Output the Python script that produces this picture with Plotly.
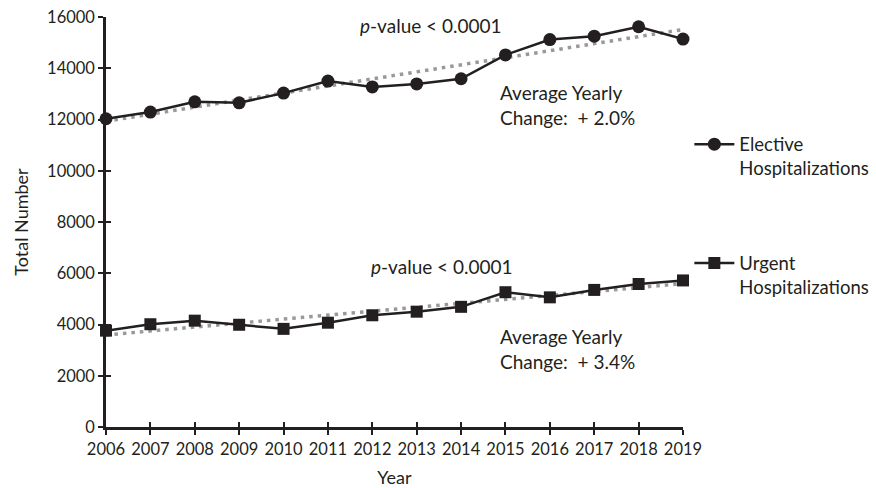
import numpy as np
import plotly.graph_objects as go

years = list(range(2006, 2020))
elective = [12030, 12290, 12690, 12650, 13030, 13500, 13270, 13390, 13590, 14520, 15120, 15250, 15620, 15140]
urgent = [3760, 4010, 4150, 3990, 3830, 4070, 4360, 4500, 4690, 5260, 5060, 5350, 5580, 5720]
y_ticks = list(range(0, 16001, 2000))

INK = "#231f20"
TREND = "#999999"
FONT = "Lato"

def trend(vals):
    c = np.polyfit(years, vals, 1)
    return list(np.polyval(c, years))

fig = go.Figure()
for vals in (elective, urgent):
    fig.add_trace(go.Scatter(x=years, y=trend(vals), mode="lines",
                             line=dict(color=TREND, width=3.5, dash="3.5px,5px"),
                             showlegend=False, hoverinfo="skip", cliponaxis=False))

fig.add_trace(go.Scatter(x=years, y=elective, mode="lines+markers",
                         name="Elective<br>Hospitalizations",
                         line=dict(color=INK, width=2.5),
                         marker=dict(symbol="circle", size=13, color=INK),
                         cliponaxis=False, legend="legend"))
fig.add_trace(go.Scatter(x=years, y=urgent, mode="lines+markers",
                         name="Urgent<br>Hospitalizations",
                         line=dict(color=INK, width=2.5),
                         marker=dict(symbol="square", size=12, color=INK),
                         cliponaxis=False, legend="legend2"))

# invisible trace for inner-tick overlay axes
fig.add_trace(go.Scatter(x=[years[0]], y=[0], xaxis="x2", yaxis="y2", mode="markers",
                         marker=dict(opacity=0), showlegend=False, hoverinfo="skip"))

axis_font = dict(family=FONT, size=16.5, color=INK)
title_font = dict(family=FONT, size=18, color=INK)
fig.update_layout(
    width=876, height=488,
    margin=dict(l=106, r=193, t=17, b=61, autoexpand=False),
    paper_bgcolor="white", plot_bgcolor="white",
    font=dict(family=FONT, color=INK, size=16),
    xaxis=dict(range=[2006, 2019], tickmode="array", tickvals=years,
               ticktext=[str(y) for y in years],
               showline=True, linecolor=INK, linewidth=2.5,
               ticks="outside", ticklen=5, tickwidth=2, tickcolor=INK,
               showgrid=False, zeroline=False, tickfont=axis_font,
               title=dict(text="Year", font=title_font, standoff=15)),
    yaxis=dict(range=[0, 16000], tickmode="array", tickvals=y_ticks,
               ticktext=[str(v) for v in y_ticks],
               showline=True, linecolor=INK, linewidth=2.5,
               ticks="outside", ticklen=5, tickwidth=2, tickcolor=INK,
               showgrid=False, zeroline=False, tickfont=axis_font,
               title=dict(text="Total Number", font=title_font, standoff=14)),
    xaxis2=dict(range=[2006, 2019], overlaying="x", tickmode="array", tickvals=years,
                ticks="inside", ticklen=5, tickwidth=2, tickcolor=INK,
                showticklabels=False, showgrid=False, zeroline=False, showline=False),
    yaxis2=dict(range=[0, 16000], overlaying="y", tickmode="array", tickvals=y_ticks,
                ticks="inside", ticklen=5, tickwidth=2, tickcolor=INK,
                showticklabels=False, showgrid=False, zeroline=False, showline=False),
    legend=dict(x=1.011, y=0.735, xanchor="left", yanchor="top", valign="top",
                itemwidth=40,
                font=dict(family=FONT, size=18.5, color=INK), bgcolor="rgba(0,0,0,0)"),
    legend2=dict(x=1.011, y=0.445, xanchor="left", yanchor="top", valign="top",
                 itemwidth=40,
                 font=dict(family=FONT, size=18.5, color=INK), bgcolor="rgba(0,0,0,0)"),
    showlegend=True,
)

ann_font = dict(family=FONT, size=19, color=INK)
fig.add_annotation(x=2013.33, y=15650, text="<i>p</i>-value &lt; 0.0001", showarrow=False,
                   xanchor="center", yanchor="middle", font=ann_font)
fig.add_annotation(x=2014.83, y=12560, text="Average Yearly<br>Change:  + 2.0%", showarrow=False,
                   xanchor="left", yanchor="middle", align="left", font=ann_font)
fig.add_annotation(x=2013.56, y=6280, text="<i>p</i>-value &lt; 0.0001", showarrow=False,
                   xanchor="center", yanchor="middle", font=ann_font)
fig.add_annotation(x=2014.83, y=3060, text="Average Yearly<br>Change:  + 3.4%", showarrow=False,
                   xanchor="left", yanchor="middle", align="left", font=ann_font)

fig.write_html("out.html")
